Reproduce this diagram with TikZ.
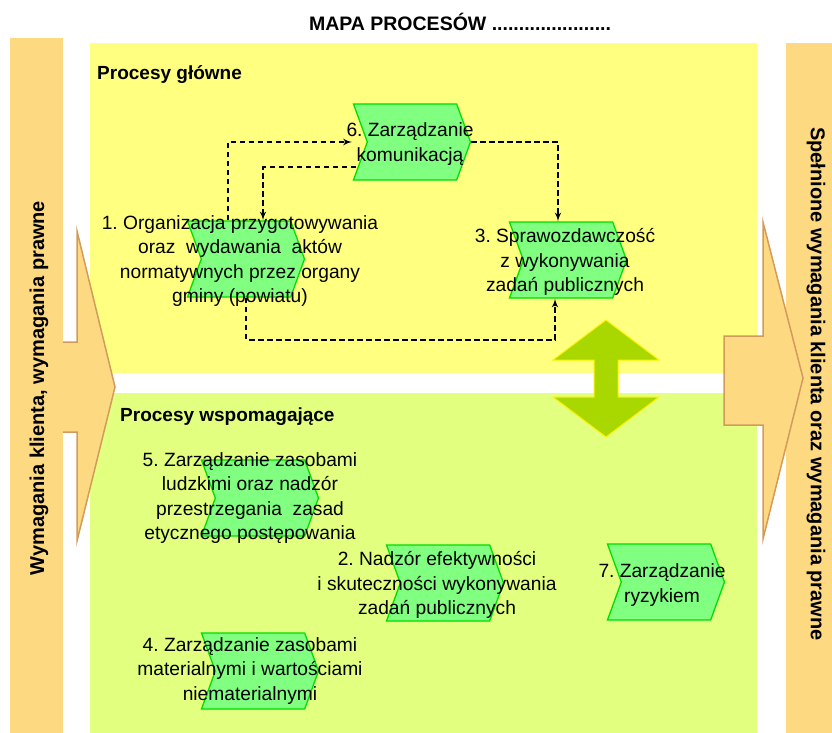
\documentclass[tikz,border=0pt]{standalone}
\usepackage{fontspec}
\setmainfont{Liberation Sans}
\usetikzlibrary{shapes,arrows}
\definecolor{bandorange}{HTML}{FDD982}
\definecolor{arrowedge}{HTML}{D29B5C}
\definecolor{mainyellow}{HTML}{FFFF80}
\definecolor{supportlime}{HTML}{E2FF80}
\definecolor{procgreen}{HTML}{80FF80}
\definecolor{procedge}{HTML}{00DD00}
\definecolor{linkarrow}{HTML}{A8D800}
\tikzstyle{line} = [draw, dash pattern=on 5.5pt off 3.5pt, line width=2pt, -latex']
\tikzstyle{proc} = [draw=procedge, fill=procgreen, line width=1.3pt, signal, signal from=west, signal to=east, signal pointer angle=140, minimum width=117pt, minimum height=76pt, inner sep=0pt]
\tikzstyle{desc} = [align=center, inner sep=0pt, font=\fontsize{19.2}{24.5}\selectfont]
\tikzstyle{heading} = [anchor=west, inner sep=0pt, font=\bfseries\fontsize{19}{23}\selectfont]
\tikzstyle{bandtext} = [inner sep=0pt, font=\bfseries\fontsize{20}{24}\selectfont]
\tikzstyle{bigarrow} = [fill=bandorange, draw=arrowedge, line width=1.5pt]

\begin{document}
\frenchspacing
\begin{tikzpicture}[x=1pt, y=-1pt]
        \useasboundingbox (0,0) rectangle (832,733);
        % tla
        \fill[bandorange] (10,38) rectangle (63,733);
        \fill[bandorange] (786,43) rectangle (832,733);
        \fill[mainyellow] (90,43) rectangle (757,373);
        \fill[supportlime] (90,393) rectangle (757,733);
        % wejscie i wyjscie
        \fill[bandorange] (60,342) -- (77,342) -- (77,231) -- (115,387) -- (77,541) -- (77,432) -- (60,432) -- cycle;
        \draw[arrowedge, line width=1.5pt] (63,342) -- (77,342) -- (77,231) -- (115,387) -- (77,541) -- (77,432) -- (63,432);
        \draw[bigarrow] (724,336) -- (763,336) -- (763,222) -- (803,378) -- (763,539) -- (763,425) -- (724,425) -- cycle;
        \node[bandtext, rotate=90] (input) at (39,388) {Wymagania klienta, wymagania prawne};
        \node[bandtext, rotate=-90] (output) at (816,384) {Spełnione wymagania klienta oraz wymagania prawne};
        \node[inner sep=0pt, font=\bfseries\fontsize{19.5}{23}\selectfont] (title) at (460,22) {MAPA PROCESÓW ......................};
        \node[heading] (main) at (97,75) {Procesy główne};
        \node[heading] (support) at (120,417) {Procesy wspomagające};
        % procesy
        \node[proc] (six) at (412,142) {};
        \node[proc] (one) at (246,259) {};
        \node[proc] (three) at (568,260) {};
        \node[proc] (five) at (260,498) {};
        \node[proc] (two) at (445,583) {};
        \node[proc] (seven) at (666,582) {};
        \node[proc] (four) at (260,671) {};
        \node[desc] (six text) at (410,144) {6. Zarządzanie\\komunikacją};
        \node[desc] (one text) at (240,261) {1. Organizacja przygotowywania\\oraz\ \ wydawania\ \ aktów\\normatywnych przez organy\\gminy\ (powiatu)};
        \node[desc] (three text) at (565,262) {3. Sprawozdawczość\\z wykonywania\\zadań publicznych};
        \node[desc] (five text) at (250,498) {5. Zarządzanie zasobami\\ludzkimi oraz nadzór\\przestrzegania\ \ zasad\\etycznego postępowania};
        \node[desc] (two text) at (437,585) {2. Nadzór efektywności\\i skuteczności wykonywania\\zadań publicznych};
        \node[desc] (seven text) at (662,585) {7. Zarządzanie\\ryzykiem};
        \node[desc] (four text) at (250,671) {4. Zarządzanie zasobami\\materialnymi i wartościami\\niematerialnymi};
        % przeplyw
        \path[line] ([xshift=-18pt]one.north) |- ([xshift=-60pt]six.center);
        \path[line] ([xshift=-56pt,yshift=-25pt]six.center) -| ([xshift=17pt]one.north);
        \path[line] (six.east) -| ([xshift=-10pt]three.north);
        \path[line] (one.south) -- ++(0,42) -| ([xshift=-13pt]three.south);
        % powiazanie
        \fill[linkarrow, draw=yellow, line width=1pt] (606,320) -- (659,360) -- (618,360) -- (618,397) -- (659,397) -- (606,437) -- (553,397) -- (594,397) -- (594,360) -- (553,360) -- cycle;
    \end{tikzpicture}
\end{document}
